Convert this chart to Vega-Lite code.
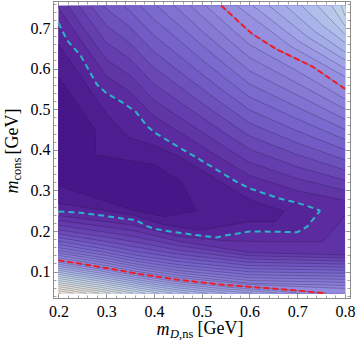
{
"$schema":"https://vega.github.io/schema/vega-lite/v6.json",
"width":297,"height":297,"autosize":"none",
"padding":{"left":53,"top":1,"right":7,"bottom":51},
"background":"white",
"config":{"view":{"stroke":null},"style":{"guide-label":{"font":"Liberation Serif"},"guide-title":{"font":"Liberation Serif"}},"axis":{"grid":false,"domainColor":"#8c8c8c","tickColor":"#8c8c8c","domainWidth":1,"tickWidth":0.8,"labelFont":"Liberation Serif","labelFontSize":16,"labelColor":"#000000","titleFont":"Liberation Serif","titleColor":"#000000","titleFontWeight":"normal","zindex":1,"labelFlush":false,"labelOverlap":false}},
"resolve":{"axis":{"x":"independent","y":"independent"}},
"datasets":{
"T":[
{"id":"T01","v":1.5,"x":0.2,"y":0.75},{"id":"T01","v":1.5,"x":0.25,"y":0.665},{"id":"T01","v":1.5,"x":0.3,"y":0.582},{"id":"T01","v":1.5,"x":0.35,"y":0.543},{"id":"T01","v":1.5,"x":0.4,"y":0.483},{"id":"T01","v":1.5,"x":0.45,"y":0.446},{"id":"T01","v":1.5,"x":0.5,"y":0.409},{"id":"T01","v":1.5,"x":0.55,"y":0.372},{"id":"T01","v":1.5,"x":0.6,"y":0.337},{"id":"T01","v":1.5,"x":0.7,"y":0.299},{"id":"T01","v":1.5,"x":0.8,"y":0.275},
{"id":"T02","v":2.5,"x":0.2195,"y":0.755},{"id":"T02","v":2.5,"x":0.25,"y":0.704},{"id":"T02","v":2.5,"x":0.3,"y":0.623},{"id":"T02","v":2.5,"x":0.35,"y":0.583},{"id":"T02","v":2.5,"x":0.4,"y":0.5225},{"id":"T02","v":2.5,"x":0.45,"y":0.483},{"id":"T02","v":2.5,"x":0.5,"y":0.444},{"id":"T02","v":2.5,"x":0.55,"y":0.406},{"id":"T02","v":2.5,"x":0.6,"y":0.369},{"id":"T02","v":2.5,"x":0.7,"y":0.329},{"id":"T02","v":2.5,"x":0.8,"y":0.3},
{"id":"T03","v":3.5,"x":0.2432,"y":0.755},{"id":"T03","v":3.5,"x":0.25,"y":0.744},{"id":"T03","v":3.5,"x":0.3,"y":0.665},{"id":"T03","v":3.5,"x":0.35,"y":0.623},{"id":"T03","v":3.5,"x":0.4,"y":0.562},{"id":"T03","v":3.5,"x":0.45,"y":0.521},{"id":"T03","v":3.5,"x":0.5,"y":0.48},{"id":"T03","v":3.5,"x":0.55,"y":0.44},{"id":"T03","v":3.5,"x":0.6,"y":0.4015},{"id":"T03","v":3.5,"x":0.7,"y":0.358},{"id":"T03","v":3.5,"x":0.8,"y":0.325},
{"id":"T04","v":4.5,"x":0.2684,"y":0.755},{"id":"T04","v":4.5,"x":0.3,"y":0.707},{"id":"T04","v":4.5,"x":0.35,"y":0.662},{"id":"T04","v":4.5,"x":0.4,"y":0.602},{"id":"T04","v":4.5,"x":0.45,"y":0.559},{"id":"T04","v":4.5,"x":0.5,"y":0.515},{"id":"T04","v":4.5,"x":0.55,"y":0.474},{"id":"T04","v":4.5,"x":0.6,"y":0.434},{"id":"T04","v":4.5,"x":0.7,"y":0.388},{"id":"T04","v":4.5,"x":0.8,"y":0.35},
{"id":"T05","v":5.5,"x":0.2953,"y":0.755},{"id":"T05","v":5.5,"x":0.3,"y":0.748},{"id":"T05","v":5.5,"x":0.35,"y":0.702},{"id":"T05","v":5.5,"x":0.4,"y":0.642},{"id":"T05","v":5.5,"x":0.45,"y":0.596},{"id":"T05","v":5.5,"x":0.5,"y":0.551},{"id":"T05","v":5.5,"x":0.55,"y":0.508},{"id":"T05","v":5.5,"x":0.6,"y":0.466},{"id":"T05","v":5.5,"x":0.7,"y":0.417},{"id":"T05","v":5.5,"x":0.8,"y":0.375},
{"id":"T06","v":6.5,"x":0.3365,"y":0.755},{"id":"T06","v":6.5,"x":0.35,"y":0.742},{"id":"T06","v":6.5,"x":0.4,"y":0.6815},{"id":"T06","v":6.5,"x":0.45,"y":0.634},{"id":"T06","v":6.5,"x":0.5,"y":0.5865},{"id":"T06","v":6.5,"x":0.55,"y":0.5415},{"id":"T06","v":6.5,"x":0.6,"y":0.498},{"id":"T06","v":6.5,"x":0.7,"y":0.4465},{"id":"T06","v":6.5,"x":0.8,"y":0.4},
{"id":"T07","v":7.5,"x":0.3719,"y":0.755},{"id":"T07","v":7.5,"x":0.4,"y":0.721},{"id":"T07","v":7.5,"x":0.45,"y":0.672},{"id":"T07","v":7.5,"x":0.5,"y":0.622},{"id":"T07","v":7.5,"x":0.55,"y":0.575},{"id":"T07","v":7.5,"x":0.6,"y":0.53},{"id":"T07","v":7.5,"x":0.7,"y":0.476},{"id":"T07","v":7.5,"x":0.8,"y":0.425},
{"id":"T08","v":8.5,"x":0.4058,"y":0.755},{"id":"T08","v":8.5,"x":0.45,"y":0.709},{"id":"T08","v":8.5,"x":0.5,"y":0.658},{"id":"T08","v":8.5,"x":0.55,"y":0.609},{"id":"T08","v":8.5,"x":0.6,"y":0.562},{"id":"T08","v":8.5,"x":0.7,"y":0.505},{"id":"T08","v":8.5,"x":0.8,"y":0.45},
{"id":"T09","v":9.5,"x":0.4426,"y":0.755},{"id":"T09","v":9.5,"x":0.45,"y":0.747},{"id":"T09","v":9.5,"x":0.5,"y":0.693},{"id":"T09","v":9.5,"x":0.55,"y":0.643},{"id":"T09","v":9.5,"x":0.6,"y":0.5945},{"id":"T09","v":9.5,"x":0.7,"y":0.535},{"id":"T09","v":9.5,"x":0.8,"y":0.475},
{"id":"T10","v":10.5,"x":0.4768,"y":0.755},{"id":"T10","v":10.5,"x":0.5,"y":0.729},{"id":"T10","v":10.5,"x":0.55,"y":0.677},{"id":"T10","v":10.5,"x":0.6,"y":0.627},{"id":"T10","v":10.5,"x":0.7,"y":0.564},{"id":"T10","v":10.5,"x":0.8,"y":0.5},
{"id":"T11","v":11.5,"x":0.5085,"y":0.755},{"id":"T11","v":11.5,"x":0.55,"y":0.711},{"id":"T11","v":11.5,"x":0.6,"y":0.659},{"id":"T11","v":11.5,"x":0.7,"y":0.594},{"id":"T11","v":11.5,"x":0.8,"y":0.525},
{"id":"T12","v":12.5,"x":0.541,"y":0.755},{"id":"T12","v":12.5,"x":0.604,"y":0.687},{"id":"T12","v":12.5,"x":0.656,"y":0.648},{"id":"T12","v":12.5,"x":0.732,"y":0.605},{"id":"T12","v":12.5,"x":0.8,"y":0.55},
{"id":"T13","v":13.5,"x":0.573,"y":0.755},{"id":"T13","v":13.5,"x":0.687,"y":0.6545},{"id":"T13","v":13.5,"x":0.8,"y":0.58},
{"id":"T14","v":14.5,"x":0.607,"y":0.755},{"id":"T14","v":14.5,"x":0.7035,"y":0.667},{"id":"T14","v":14.5,"x":0.8,"y":0.6005},
{"id":"T15","v":15.5,"x":0.641,"y":0.755},{"id":"T15","v":15.5,"x":0.7205,"y":0.679},{"id":"T15","v":15.5,"x":0.8,"y":0.621},
{"id":"T16","v":16.5,"x":0.675,"y":0.755},{"id":"T16","v":16.5,"x":0.7375,"y":0.691},{"id":"T16","v":16.5,"x":0.8,"y":0.641},
{"id":"T17","v":17.5,"x":0.709,"y":0.755},{"id":"T17","v":17.5,"x":0.7545,"y":0.7045},{"id":"T17","v":17.5,"x":0.8,"y":0.664},
{"id":"T18","v":18.5,"x":0.742,"y":0.755},{"id":"T18","v":18.5,"x":0.8,"y":0.684},
{"id":"T19","v":19.5,"x":0.772,"y":0.755},{"id":"T19","v":19.5,"x":0.8,"y":0.705},
{"id":"T20","v":20.5,"x":0.792,"y":0.755},{"id":"T20","v":20.5,"x":0.8,"y":0.73}
],
"E":[
{"id":"E01","v":1.36,"x":0.2,"y":0.238},{"id":"E01","v":1.36,"x":0.3,"y":0.223},{"id":"E01","v":1.36,"x":0.36,"y":0.214},{"id":"E01","v":1.36,"x":0.45,"y":0.187},{"id":"E01","v":1.36,"x":0.55,"y":0.176},{"id":"E01","v":1.36,"x":0.64,"y":0.1735},{"id":"E01","v":1.36,"x":0.753,"y":0.1735},{"id":"E01","v":1.36,"x":0.8,"y":0.237},
{"id":"E02","v":2.21,"x":0.2,"y":0.226},{"id":"E02","v":2.21,"x":0.3,"y":0.21},{"id":"E02","v":2.21,"x":0.36,"y":0.2},{"id":"E02","v":2.21,"x":0.45,"y":0.175},{"id":"E02","v":2.21,"x":0.6,"y":0.147},{"id":"E02","v":2.21,"x":0.8,"y":0.141},
{"id":"E03","v":3.07,"x":0.2,"y":0.214},{"id":"E03","v":3.07,"x":0.3,"y":0.197},{"id":"E03","v":3.07,"x":0.36,"y":0.186},{"id":"E03","v":3.07,"x":0.45,"y":0.164},{"id":"E03","v":3.07,"x":0.6,"y":0.139},{"id":"E03","v":3.07,"x":0.8,"y":0.1335},
{"id":"E04","v":3.93,"x":0.2,"y":0.203},{"id":"E04","v":3.93,"x":0.3,"y":0.185},{"id":"E04","v":3.93,"x":0.36,"y":0.173},{"id":"E04","v":3.93,"x":0.45,"y":0.153},{"id":"E04","v":3.93,"x":0.6,"y":0.131},{"id":"E04","v":3.93,"x":0.8,"y":0.126},
{"id":"E05","v":4.79,"x":0.2,"y":0.193},{"id":"E05","v":4.79,"x":0.3,"y":0.174},{"id":"E05","v":4.79,"x":0.36,"y":0.161},{"id":"E05","v":4.79,"x":0.45,"y":0.143},{"id":"E05","v":4.79,"x":0.6,"y":0.123},{"id":"E05","v":4.79,"x":0.8,"y":0.1185},
{"id":"E06","v":5.64,"x":0.2,"y":0.184},{"id":"E06","v":5.64,"x":0.3,"y":0.164},{"id":"E06","v":5.64,"x":0.36,"y":0.15},{"id":"E06","v":5.64,"x":0.45,"y":0.134},{"id":"E06","v":5.64,"x":0.6,"y":0.115},{"id":"E06","v":5.64,"x":0.8,"y":0.111},
{"id":"E07","v":6.5,"x":0.2,"y":0.175},{"id":"E07","v":6.5,"x":0.3,"y":0.155},{"id":"E07","v":6.5,"x":0.36,"y":0.141},{"id":"E07","v":6.5,"x":0.45,"y":0.125},{"id":"E07","v":6.5,"x":0.6,"y":0.107},{"id":"E07","v":6.5,"x":0.8,"y":0.1035},
{"id":"E08","v":7.36,"x":0.2,"y":0.167},{"id":"E08","v":7.36,"x":0.3,"y":0.147},{"id":"E08","v":7.36,"x":0.36,"y":0.133},{"id":"E08","v":7.36,"x":0.45,"y":0.117},{"id":"E08","v":7.36,"x":0.6,"y":0.0995},{"id":"E08","v":7.36,"x":0.8,"y":0.096},
{"id":"E09","v":8.21,"x":0.2,"y":0.159},{"id":"E09","v":8.21,"x":0.3,"y":0.14},{"id":"E09","v":8.21,"x":0.36,"y":0.126},{"id":"E09","v":8.21,"x":0.45,"y":0.11},{"id":"E09","v":8.21,"x":0.6,"y":0.092},{"id":"E09","v":8.21,"x":0.8,"y":0.0885},
{"id":"E10","v":9.07,"x":0.2,"y":0.152},{"id":"E10","v":9.07,"x":0.3,"y":0.133},{"id":"E10","v":9.07,"x":0.36,"y":0.119},{"id":"E10","v":9.07,"x":0.45,"y":0.103},{"id":"E10","v":9.07,"x":0.6,"y":0.085},{"id":"E10","v":9.07,"x":0.8,"y":0.081},
{"id":"E11","v":9.93,"x":0.2,"y":0.146},{"id":"E11","v":9.93,"x":0.3,"y":0.127},{"id":"E11","v":9.93,"x":0.36,"y":0.113},{"id":"E11","v":9.93,"x":0.45,"y":0.097},{"id":"E11","v":9.93,"x":0.6,"y":0.078},{"id":"E11","v":9.93,"x":0.8,"y":0.0735},
{"id":"E12","v":10.79,"x":0.2,"y":0.14},{"id":"E12","v":10.79,"x":0.3,"y":0.121},{"id":"E12","v":10.79,"x":0.36,"y":0.107},{"id":"E12","v":10.79,"x":0.45,"y":0.091},{"id":"E12","v":10.79,"x":0.6,"y":0.0715},{"id":"E12","v":10.79,"x":0.8,"y":0.066},
{"id":"E13","v":11.64,"x":0.2,"y":0.134},{"id":"E13","v":11.64,"x":0.3,"y":0.115},{"id":"E13","v":11.64,"x":0.36,"y":0.101},{"id":"E13","v":11.64,"x":0.45,"y":0.0855},{"id":"E13","v":11.64,"x":0.6,"y":0.068},{"id":"E13","v":11.64,"x":0.8,"y":0.0585},
{"id":"E14","v":12.5,"x":0.2,"y":0.128},{"id":"E14","v":12.5,"x":0.29,"y":0.111},{"id":"E14","v":12.5,"x":0.37,"y":0.094},{"id":"E14","v":12.5,"x":0.45,"y":0.08},{"id":"E14","v":12.5,"x":0.55,"y":0.067},{"id":"E14","v":12.5,"x":0.64,"y":0.059},{"id":"E14","v":12.5,"x":0.76,"y":0.047}
],
"B":[
{"id":"B01","v":13.5,"x":0.2,"y":0.123},{"id":"B01","v":13.5,"x":0.29,"y":0.106},{"id":"B01","v":13.5,"x":0.37,"y":0.089},{"id":"B01","v":13.5,"x":0.45,"y":0.075},{"id":"B01","v":13.5,"x":0.55,"y":0.062},{"id":"B01","v":13.5,"x":0.64,"y":0.054},{"id":"B01","v":13.5,"x":0.705,"y":0.047},
{"id":"B02","v":14.5,"x":0.2,"y":0.118},{"id":"B02","v":14.5,"x":0.29,"y":0.101},{"id":"B02","v":14.5,"x":0.37,"y":0.084},{"id":"B02","v":14.5,"x":0.45,"y":0.07},{"id":"B02","v":14.5,"x":0.55,"y":0.057},{"id":"B02","v":14.5,"x":0.64,"y":0.049},{"id":"B02","v":14.5,"x":0.6585,"y":0.047},
{"id":"B03","v":15.5,"x":0.2,"y":0.113},{"id":"B03","v":15.5,"x":0.29,"y":0.096},{"id":"B03","v":15.5,"x":0.37,"y":0.079},{"id":"B03","v":15.5,"x":0.45,"y":0.065},{"id":"B03","v":15.5,"x":0.55,"y":0.052},{"id":"B03","v":15.5,"x":0.606,"y":0.047},
{"id":"B04","v":16.5,"x":0.2,"y":0.108},{"id":"B04","v":16.5,"x":0.29,"y":0.091},{"id":"B04","v":16.5,"x":0.37,"y":0.074},{"id":"B04","v":16.5,"x":0.45,"y":0.06},{"id":"B04","v":16.5,"x":0.55,"y":0.047},
{"id":"B05","v":17.5,"x":0.2,"y":0.103},{"id":"B05","v":17.5,"x":0.29,"y":0.086},{"id":"B05","v":17.5,"x":0.37,"y":0.069},{"id":"B05","v":17.5,"x":0.45,"y":0.055},{"id":"B05","v":17.5,"x":0.5115,"y":0.047},
{"id":"B06","v":18.5,"x":0.2,"y":0.098},{"id":"B06","v":18.5,"x":0.29,"y":0.081},{"id":"B06","v":18.5,"x":0.37,"y":0.064},{"id":"B06","v":18.5,"x":0.45,"y":0.05},{"id":"B06","v":18.5,"x":0.473,"y":0.047},
{"id":"B07","v":19.5,"x":0.2,"y":0.093},{"id":"B07","v":19.5,"x":0.29,"y":0.076},{"id":"B07","v":19.5,"x":0.37,"y":0.059},{"id":"B07","v":19.5,"x":0.4386,"y":0.047},
{"id":"B08","v":20.5,"x":0.2,"y":0.088},{"id":"B08","v":20.5,"x":0.29,"y":0.071},{"id":"B08","v":20.5,"x":0.37,"y":0.054},{"id":"B08","v":20.5,"x":0.41,"y":0.047},
{"id":"B09","v":21.5,"x":0.2,"y":0.083},{"id":"B09","v":21.5,"x":0.29,"y":0.066},{"id":"B09","v":21.5,"x":0.37,"y":0.049},{"id":"B09","v":21.5,"x":0.3814,"y":0.047},
{"id":"B10","v":22.5,"x":0.2,"y":0.078},{"id":"B10","v":22.5,"x":0.29,"y":0.061},{"id":"B10","v":22.5,"x":0.356,"y":0.047},
{"id":"B11","v":23.5,"x":0.2,"y":0.073},{"id":"B11","v":23.5,"x":0.29,"y":0.056},{"id":"B11","v":23.5,"x":0.3324,"y":0.047},
{"id":"B12","v":24.5,"x":0.2,"y":0.068},{"id":"B12","v":24.5,"x":0.29,"y":0.051},{"id":"B12","v":24.5,"x":0.3088,"y":0.047},
{"id":"B13","v":25.5,"x":0.2,"y":0.063},{"id":"B13","v":25.5,"x":0.2847,"y":0.047},
{"id":"B14","v":26.5,"x":0.2,"y":0.058},{"id":"B14","v":26.5,"x":0.258,"y":0.047},
{"id":"B15","v":27.5,"x":0.2,"y":0.053},{"id":"B15","v":27.5,"x":0.2317,"y":0.047},
{"id":"B16","v":28.5,"x":0.2,"y":0.048},{"id":"B16","v":28.5,"x":0.2053,"y":0.047}
],
"C":[
{"id":"c1","v":-0.5,"x":0.2,"lo":0.248,"hi":0.713},{"id":"c1","v":-0.5,"x":0.218,"lo":0.2469,"hi":0.67},{"id":"c1","v":-0.5,"x":0.246,"lo":0.2452,"hi":0.633},{"id":"c1","v":-0.5,"x":0.281,"lo":0.2398,"hi":0.56},{"id":"c1","v":-0.5,"x":0.3,"lo":0.2366,"hi":0.54},{"id":"c1","v":-0.5,"x":0.333,"lo":0.231,"hi":0.5175},{"id":"c1","v":-0.5,"x":0.362,"lo":0.227,"hi":0.4936},{"id":"c1","v":-0.5,"x":0.385,"lo":0.212,"hi":0.459},{"id":"c1","v":-0.5,"x":0.402,"lo":0.205,"hi":0.442},{"id":"c1","v":-0.5,"x":0.444,"lo":0.197,"hi":0.412},{"id":"c1","v":-0.5,"x":0.489,"lo":0.19,"hi":0.381},{"id":"c1","v":-0.5,"x":0.531,"lo":0.184,"hi":0.351},{"id":"c1","v":-0.5,"x":0.545,"lo":0.188,"hi":0.341},{"id":"c1","v":-0.5,"x":0.573,"lo":0.1935,"hi":0.321},{"id":"c1","v":-0.5,"x":0.6,"lo":0.199,"hi":0.305},{"id":"c1","v":-0.5,"x":0.663,"lo":0.198,"hi":0.28},{"id":"c1","v":-0.5,"x":0.7,"lo":0.197,"hi":0.2694},{"id":"c1","v":-0.5,"x":0.72,"lo":0.21,"hi":0.262},{"id":"c1","v":-0.5,"x":0.748,"lo":0.25,"hi":0.25},
{"id":"c2","v":-1.5,"x":0.2,"lo":0.268,"hi":0.66},{"id":"c2","v":-1.5,"x":0.25,"lo":0.259,"hi":0.575},{"id":"c2","v":-1.5,"x":0.3,"lo":0.25,"hi":0.49},{"id":"c2","v":-1.5,"x":0.347,"lo":0.241,"hi":0.43},{"id":"c2","v":-1.5,"x":0.361,"lo":0.238,"hi":0.425},{"id":"c2","v":-1.5,"x":0.402,"lo":0.222,"hi":0.41},{"id":"c2","v":-1.5,"x":0.423,"lo":0.215,"hi":0.399},{"id":"c2","v":-1.5,"x":0.45,"lo":0.21,"hi":0.385},{"id":"c2","v":-1.5,"x":0.496,"lo":0.202,"hi":0.353},{"id":"c2","v":-1.5,"x":0.55,"lo":0.2125,"hi":0.313},{"id":"c2","v":-1.5,"x":0.6,"lo":0.223,"hi":0.277},{"id":"c2","v":-1.5,"x":0.653,"lo":0.223,"hi":0.256},{"id":"c2","v":-1.5,"x":0.673,"lo":0.248,"hi":0.248},
{"id":"c3","v":-2.5,"x":0.2,"lo":0.311,"hi":0.579},{"id":"c3","v":-2.5,"x":0.277,"lo":0.282,"hi":0.45},{"id":"c3","v":-2.5,"x":0.2775,"lo":0.2816,"hi":0.387},{"id":"c3","v":-2.5,"x":0.361,"lo":0.25,"hi":0.371},{"id":"c3","v":-2.5,"x":0.402,"lo":0.2401,"hi":0.363},{"id":"c3","v":-2.5,"x":0.423,"lo":0.235,"hi":0.347},{"id":"c3","v":-2.5,"x":0.458,"lo":0.243,"hi":0.321},{"id":"c3","v":-2.5,"x":0.489,"lo":0.25,"hi":0.25}
]
},
"layer":[
{"data":{"values":[{}]},"mark":{"type":"rect","fill":"#5b2b9f"},
 "encoding":{"x":{"datum":0.2,"type":"quantitative","scale":{"domain":[0.1887,0.8104],"nice":false,"zero":false},"axis":null},"x2":{"datum":0.8},"y":{"datum":0.047,"type":"quantitative","scale":{"domain":[0.035,0.7665],"nice":false,"zero":false},"axis":null},"y2":{"datum":0.755}}},
{"data":{"name":"T"},"mark":{"type":"area","interpolate":"linear"},
 "encoding":{
  "x":{"field":"x","type":"quantitative","scale":{"domain":[0.1887,0.8104],"nice":false,"zero":false},"axis":{"orient":"bottom","values":[0.2,0.3,0.4,0.5,0.6,0.7,0.8],"format":".1f","labelFont":"Liberation Serif","labelFontSize":16,"tickSize":-5,"labelPadding":10,"title":"m","titleFont":"Liberation Serif","titleFontStyle":"italic","titleFontSize":18,"titleAngle":0,"titleAlign":"left","titleBaseline":"alphabetic","titleX":103,"titleY":36}},
  "y":{"field":"y","type":"quantitative","stack":null,"scale":{"domain":[0.035,0.7665],"nice":false,"zero":false},"axis":{"orient":"left","values":[0.1,0.2,0.3,0.4,0.5,0.6,0.7],"format":".1f","labelFont":"Liberation Serif","labelFontSize":16,"tickSize":-5,"labelPadding":8,"title":"m","titleFont":"Liberation Serif","titleFontStyle":"italic","titleFontSize":18,"titleAngle":270,"titleAlign":"left","titleBaseline":"alphabetic","titleX":-36,"titleY":192}},
  "y2":{"datum":0.755},
  "detail":{"field":"id"},
  "color":{"field":"v","type":"quantitative","legend":null,"scale":{"type":"linear","domain":[-2.5,0.5,6,12.5,16.5,20.5,25,29],"range":["#47178a","#5b2b9f","#7460c8","#9690e0","#a9b5ea","#c6d9ea","#e4e4dc","#f3e7cf"],"interpolate":"rgb"}}}},
{"data":{"name":"E"},"mark":{"type":"area","interpolate":"linear"},
 "encoding":{
  "x":{"field":"x","type":"quantitative","scale":{"domain":[0.1887,0.8104],"nice":false,"zero":false},"axis":{"orient":"bottom","values":[0.2,0.22,0.24,0.26,0.28,0.3,0.32,0.34,0.36,0.38,0.4,0.42,0.44,0.46,0.48,0.5,0.52,0.54,0.56,0.58,0.6,0.62,0.64,0.66,0.68,0.7,0.72,0.74,0.76,0.78,0.8],"tickSize":-3,"labels":false,"title":"D","titleFont":"Liberation Serif","titleFontStyle":"italic","titleFontSize":12.5,"titleAngle":0,"titleAlign":"left","titleBaseline":"alphabetic","titleX":116.5,"titleY":39.5}},
  "y":{"field":"y","type":"quantitative","stack":null,"scale":{"domain":[0.035,0.7665],"nice":false,"zero":false},"axis":{"orient":"left","values":[0.04,0.06,0.08,0.1,0.12,0.14,0.16,0.18,0.2,0.22,0.24,0.26,0.28,0.3,0.32,0.34,0.36,0.38,0.4,0.42,0.44,0.46,0.48,0.5,0.52,0.54,0.56,0.58,0.6,0.62,0.64,0.66,0.68,0.7,0.72,0.74,0.76],"tickSize":-3,"labels":false,"title":"cons","titleFont":"Liberation Serif","titleFontSize":12.5,"titleAngle":270,"titleAlign":"left","titleBaseline":"alphabetic","titleX":-32.5,"titleY":179}},
  "y2":{"datum":0.047},
  "detail":{"field":"id"},
  "color":{"field":"v","type":"quantitative","legend":null,"scale":{"type":"linear","domain":[-2.5,0.5,6,12.5,16.5,20.5,25,29],"range":["#47178a","#5b2b9f","#7460c8","#9690e0","#a9b5ea","#c6d9ea","#e4e4dc","#f3e7cf"],"interpolate":"rgb"}}}},
{"data":{"name":"B"},"mark":{"type":"area","interpolate":"linear"},
 "encoding":{
  "x":{"field":"x","type":"quantitative","scale":{"domain":[0.1887,0.8104],"nice":false,"zero":false},"axis":{"orient":"top","values":[0.2,0.3,0.4,0.5,0.6,0.7,0.8],"tickSize":-5,"labels":false,"title":",ns","titleFont":"Liberation Serif","titleFontSize":12.5,"titleAngle":0,"titleAlign":"left","titleBaseline":"alphabetic","titleX":125.5,"titleY":336.5}},
  "y":{"field":"y","type":"quantitative","stack":null,"scale":{"domain":[0.035,0.7665],"nice":false,"zero":false},"axis":{"orient":"right","values":[0.1,0.2,0.3,0.4,0.5,0.6,0.7],"tickSize":-5,"labels":false,"title":"[GeV]","titleFont":"Liberation Serif","titleFontSize":18,"titleAngle":270,"titleAlign":"left","titleBaseline":"alphabetic","titleX":-333,"titleY":153}},
  "y2":{"datum":0.047},
  "detail":{"field":"id"},
  "color":{"field":"v","type":"quantitative","legend":null,"scale":{"type":"linear","domain":[-2.5,0.5,6,12.5,16.5,20.5,25,29],"range":["#47178a","#5b2b9f","#7460c8","#9690e0","#a9b5ea","#c6d9ea","#e4e4dc","#f3e7cf"],"interpolate":"rgb"}}}},
{"data":{"name":"C"},"mark":{"type":"area","interpolate":"linear"},
 "encoding":{
  "x":{"field":"x","type":"quantitative","scale":{"domain":[0.1887,0.8104],"nice":false,"zero":false},"axis":{"orient":"top","values":[0.2,0.22,0.24,0.26,0.28,0.3,0.32,0.34,0.36,0.38,0.4,0.42,0.44,0.46,0.48,0.5,0.52,0.54,0.56,0.58,0.6,0.62,0.64,0.66,0.68,0.7,0.72,0.74,0.76,0.78,0.8],"tickSize":-3,"labels":false,"title":"[GeV]","titleFont":"Liberation Serif","titleFontSize":18,"titleAngle":0,"titleAlign":"left","titleBaseline":"alphabetic","titleX":144,"titleY":332.7}},
  "y":{"field":"lo","type":"quantitative","stack":null,"scale":{"domain":[0.035,0.7665],"nice":false,"zero":false},"axis":{"orient":"right","values":[0.04,0.06,0.08,0.1,0.12,0.14,0.16,0.18,0.2,0.22,0.24,0.26,0.28,0.3,0.32,0.34,0.36,0.38,0.4,0.42,0.44,0.46,0.48,0.5,0.52,0.54,0.56,0.58,0.6,0.62,0.64,0.66,0.68,0.7,0.72,0.74,0.76],"tickSize":-3,"labels":false,"title":null}},
  "y2":{"field":"hi"},
  "detail":{"field":"id"},
  "color":{"field":"v","type":"quantitative","legend":null,"scale":{"type":"linear","domain":[-2.5,0.5,6,12.5,16.5,20.5,25,29],"range":["#47178a","#5b2b9f","#7460c8","#9690e0","#a9b5ea","#c6d9ea","#e4e4dc","#f3e7cf"],"interpolate":"rgb"}}}},
{"data":{"name":"T"},"mark":{"type":"line","color":"#1c1430","strokeOpacity":0.35,"strokeWidth":0.8},
 "encoding":{"x":{"field":"x","type":"quantitative","scale":{"domain":[0.1887,0.8104],"nice":false,"zero":false},"axis":null},"y":{"field":"y","type":"quantitative","scale":{"domain":[0.035,0.7665],"nice":false,"zero":false},"axis":null},"detail":{"field":"id"}}},
{"data":{"name":"E"},"mark":{"type":"line","color":"#1c1430","strokeOpacity":0.35,"strokeWidth":0.8},
 "encoding":{"x":{"field":"x","type":"quantitative","scale":{"domain":[0.1887,0.8104],"nice":false,"zero":false},"axis":null},"y":{"field":"y","type":"quantitative","scale":{"domain":[0.035,0.7665],"nice":false,"zero":false},"axis":null},"detail":{"field":"id"}}},
{"data":{"name":"B"},"mark":{"type":"line","color":"#1c1430","strokeOpacity":0.35,"strokeWidth":0.8},
 "encoding":{"x":{"field":"x","type":"quantitative","scale":{"domain":[0.1887,0.8104],"nice":false,"zero":false},"axis":null},"y":{"field":"y","type":"quantitative","scale":{"domain":[0.035,0.7665],"nice":false,"zero":false},"axis":null},"detail":{"field":"id"}}},
{"data":{"name":"C"},"transform":[{"filter":"datum.id != 'c1'"}],"mark":{"type":"line","color":"#1c1430","strokeOpacity":0.35,"strokeWidth":0.8},
 "encoding":{"x":{"field":"x","type":"quantitative","scale":{"domain":[0.1887,0.8104],"nice":false,"zero":false},"axis":null},"y":{"field":"lo","type":"quantitative","scale":{"domain":[0.035,0.7665],"nice":false,"zero":false},"axis":null},"detail":{"field":"id"}}},
{"data":{"name":"C"},"transform":[{"filter":"datum.id != 'c1'"}],"mark":{"type":"line","color":"#1c1430","strokeOpacity":0.35,"strokeWidth":0.8},
 "encoding":{"x":{"field":"x","type":"quantitative","scale":{"domain":[0.1887,0.8104],"nice":false,"zero":false},"axis":null},"y":{"field":"hi","type":"quantitative","scale":{"domain":[0.035,0.7665],"nice":false,"zero":false},"axis":null},"detail":{"field":"id"}}},
{"data":{"name":"C"},"transform":[{"filter":"datum.id == 'c1'"}],"mark":{"type":"line","color":"#2bb4c6","strokeWidth":2,"strokeDash":[6,4]},
 "encoding":{"x":{"field":"x","type":"quantitative","scale":{"domain":[0.1887,0.8104],"nice":false,"zero":false},"axis":null},"y":{"field":"lo","type":"quantitative","scale":{"domain":[0.035,0.7665],"nice":false,"zero":false},"axis":null}}},
{"data":{"name":"C"},"transform":[{"filter":"datum.id == 'c1'"}],"mark":{"type":"line","color":"#2bb4c6","strokeWidth":2,"strokeDash":[6,4]},
 "encoding":{"x":{"field":"x","type":"quantitative","scale":{"domain":[0.1887,0.8104],"nice":false,"zero":false},"axis":null},"y":{"field":"hi","type":"quantitative","scale":{"domain":[0.035,0.7665],"nice":false,"zero":false},"axis":null}}},
{"data":{"name":"T"},"transform":[{"filter":"datum.id == 'T12'"}],"mark":{"type":"line","color":"#ee1c25","strokeWidth":2,"strokeDash":[6,3]},
 "encoding":{"x":{"field":"x","type":"quantitative","scale":{"domain":[0.1887,0.8104],"nice":false,"zero":false},"axis":null},"y":{"field":"y","type":"quantitative","scale":{"domain":[0.035,0.7665],"nice":false,"zero":false},"axis":null}}},
{"data":{"name":"E"},"transform":[{"filter":"datum.id == 'E14'"}],"mark":{"type":"line","color":"#ee1c25","strokeWidth":2,"strokeDash":[6,3]},
 "encoding":{"x":{"field":"x","type":"quantitative","scale":{"domain":[0.1887,0.8104],"nice":false,"zero":false},"axis":null},"y":{"field":"y","type":"quantitative","scale":{"domain":[0.035,0.7665],"nice":false,"zero":false},"axis":null}}}
]
}
